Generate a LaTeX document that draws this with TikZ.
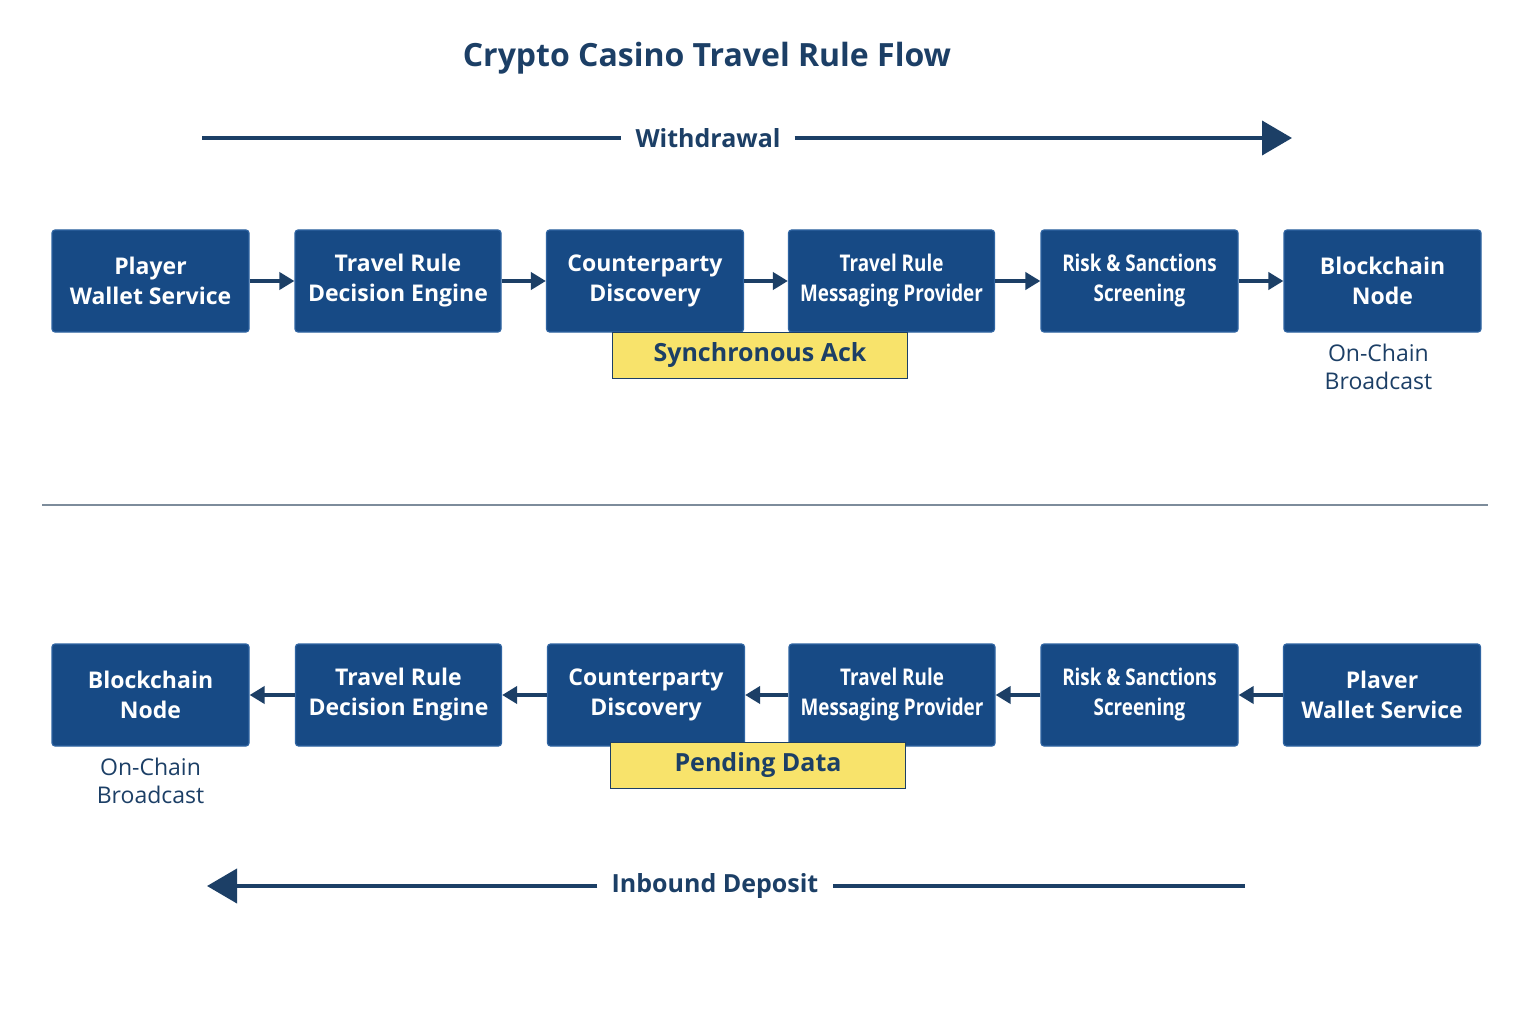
\documentclass[tikz,border=0pt]{standalone}
\usepackage{fontspec}
\setmainfont{Open Sans}
\usetikzlibrary{positioning,arrows.meta}
\definecolor{boxblue}{HTML}{174A85}
\definecolor{boxedge}{HTML}{2F64A2}
\definecolor{navy}{HTML}{1C3F66}
\definecolor{ackyellow}{HTML}{F8E36B}
\definecolor{rulegray}{HTML}{7D8C9B}

\begin{document}
\begin{tikzpicture}[x=1pt,y=-1pt,>={Triangle[length=15pt,width=17pt]},
        stage/.style={draw=boxedge,fill=boxblue,line width=1.2pt,rounded corners=3pt,
            minimum width=197pt,minimum height=102pt,inner sep=2pt,text=white,align=center,
            font=\bfseries\fontsize{23}{30}\selectfont},
        widestage/.style={stage,minimum width=206pt},
        narrowtext/.style={font=\bfseries\fontsize{23}{30}\selectfont\addfontfeature{FakeStretch=0.82}},
        link/.style={->,navy,line width=4pt},
        note/.style={draw=navy,fill=ackyellow,line width=1pt,minimum width=295pt,minimum height=46pt,
            text=navy,font=\bfseries\fontsize{25}{28}\selectfont},
        sublabel/.style={text=navy,align=center,font=\fontsize{23}{28}\selectfont},
        flowlabel/.style={text=navy,inner xsep=14pt,font=\bfseries\fontsize{25}{28}\selectfont},
        flow/.style={navy,line width=4pt,>={Triangle[length=30pt,width=34pt]}}]
        \fill[white] (0,0) rectangle (1536,1024);
        \useasboundingbox (0,0) rectangle (1536,1024);

        \node[text=navy,font=\bfseries\fontsize{32}{36}\selectfont] (title) at (707,58) {Crypto Casino Travel Rule Flow};

        % withdrawal
        \coordinate (wstart) at (202,138);
        \coordinate (wend) at (1292,138);
        \node[flowlabel] (wlab) at (708,138) {Withdrawal};
        \draw[flow] (wstart) -- (wlab.west);
        \draw[flow,->] (wlab.east) -- (wend);

        \node[stage] (w1) at (150.5,281) {Player\\Wallet Service};
        \node[widestage] (w2) at (398,281) {Travel Rule\\Decision Engine};
        \node[stage] (w3) at (645,281) {Counterparty\\Discovery};
        \node[widestage,narrowtext] (w4) at (891.5,281) {Travel Rule\\Messaging Provider};
        \node[stage,narrowtext] (w5) at (1139.5,281) {Risk \& Sanctions\\Screening};
        \node[stage] (w6) at (1382.5,281) {Blockchain\\Node};

        \draw[link] (w1) -- (w2);
        \draw[link] (w2) -- (w3);
        \draw[link] (w3) -- (w4);
        \draw[link] (w4) -- (w5);
        \draw[link] (w5) -- (w6);

        \node[note] (ack) at (760,355) {Synchronous Ack};
        \node[sublabel,below=8pt of w6.south west,anchor=north,xshift=95pt] (wchain) {On-Chain\\Broadcast};

        \draw[rulegray,line width=2.5pt] (42,505) -- (1488,505);

        % inbound deposit
        \node[stage] (d1) at (150.5,695) {Blockchain\\Node};
        \node[widestage] (d2) at (398.5,695) {Travel Rule\\Decision Engine};
        \node[stage] (d3) at (646,695) {Counterparty\\Discovery};
        \node[widestage,narrowtext] (d4) at (892,695) {Travel Rule\\Messaging Provider};
        \node[stage,narrowtext] (d5) at (1139.5,695) {Risk \& Sanctions\\Screening};
        \node[stage] (d6) at (1382,695) {Plaver\\Wallet Service};

        \draw[link] (d6) -- (d5);
        \draw[link] (d5) -- (d4);
        \draw[link] (d4) -- (d3);
        \draw[link] (d3) -- (d2);
        \draw[link] (d2) -- (d1);

        \node[note] (pending) at (758,765) {Pending Data};
        \node[sublabel,below=8pt of d1] (dchain) {On-Chain\\Broadcast};

        \coordinate (dstart) at (1245,886);
        \coordinate (dend) at (207,886);
        \node[flowlabel] (dlab) at (715,886) {Inbound Deposit};
        \draw[flow] (dstart) -- (dlab.east);
        \draw[flow,->] (dlab.west) -- (dend);
    \end{tikzpicture}
\end{document}
